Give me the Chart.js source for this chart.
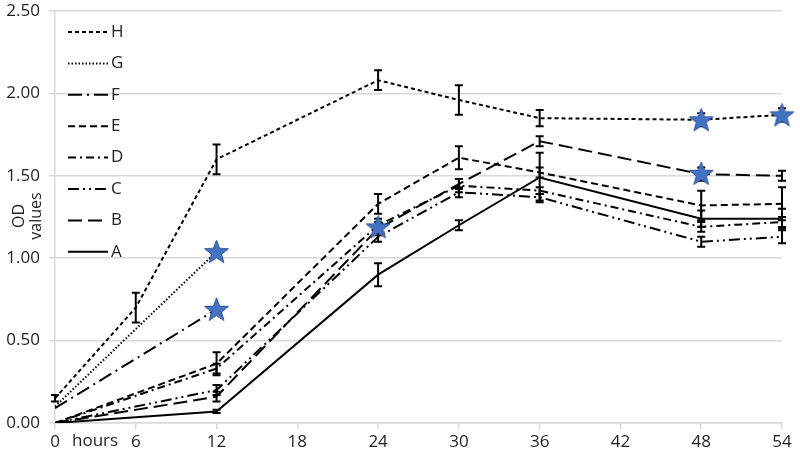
<!DOCTYPE html>
<html>
<head>
<meta charset="utf-8">
<script src="https://cdn.jsdelivr.net/npm/chart.js@4"></script>
<style>
  html, body { margin: 0; padding: 0; background: #fff; }
  #wrap { width: 800px; height: 459px; position: relative; }
</style>
</head>
<body>
<div id="wrap"><canvas id="odChart"></canvas></div>
<script>
const hours = [0, 6, 12, 24, 30, 36, 48, 54];
const xTicks = [0, 6, 12, 18, 24, 30, 36, 42, 48, 54];
const yTicks = [0, 0.5, 1, 1.5, 2, 2.5];

const seriesA = [0, null, 0.07, 0.9, 1.2, 1.49, 1.24, 1.24];
const seriesB = [0, null, 0.16, 1.18, 1.45, 1.71, 1.51, 1.5];
const seriesC = [0, null, 0.2, 1.13, 1.4, 1.37, 1.1, 1.13];
const seriesD = [0, null, 0.33, 1.2, 1.44, 1.41, 1.19, 1.22];
const seriesE = [0, null, 0.36, 1.33, 1.61, 1.52, 1.32, 1.33];
const seriesF = [0.09, null, 0.69, null, null, null, null, null];
const seriesG = [0.1, null, 1.04, null, null, null, null, null];
const seriesH = [0.15, 0.7, 1.6, 2.08, 1.96, 1.85, 1.84, 1.87];

const errA = [0, null, 0.01, 0.07, 0.03, 0.15, 0.05, 0.06];
const errB = [0, null, 0.03, 0.04, 0.03, 0.03, 0.04, 0.03];
const errC = [0, null, 0.03, 0.03, 0.03, 0.02, 0.03, 0.04];
const errD = [0, null, 0.03, 0.04, 0.04, 0.02, 0.03, 0.03];
const errE = [0, null, 0.07, 0.06, 0.07, 0.03, 0.09, 0.1];
const errH = [0.02, 0.09, 0.09, 0.06, 0.09, 0.05, 0.04, 0.04];

// significance markers
const starX = [12, 12, 24, 48, 48, 54];
const starY = [1.04, 0.69, 1.19, 1.84, 1.515, 1.87];

const FONT = "'Open Sans', sans-serif";
const INK = "#1f1f1f";

function pts(vals) {
  return hours
    .map((h, i) => ({ x: h, y: vals[i] }))
    .filter((p) => p.y !== null);
}

function makeStar(size) {
  const c = document.createElement("canvas");
  c.width = size;
  c.height = size;
  const ctx = c.getContext("2d");
  const cx = size / 2, cy = size / 2 + 1;
  const outer = size / 2 - 1, inner = outer * 0.42;
  ctx.beginPath();
  for (let i = 0; i < 10; i++) {
    const r = i % 2 === 0 ? outer : inner;
    const a = -Math.PI / 2 + (i * Math.PI) / 5;
    const px = cx + r * Math.cos(a), py = cy + r * Math.sin(a);
    if (i === 0) ctx.moveTo(px, py); else ctx.lineTo(px, py);
  }
  ctx.closePath();
  ctx.fillStyle = "#4472c4";
  ctx.fill();
  ctx.strokeStyle = "#2f528f";
  ctx.lineWidth = 1;
  ctx.stroke();
  return c;
}

function line(label, vals, errs, dash) {
  return {
    type: "line",
    label: label,
    data: pts(vals),
    errors: errs,
    borderColor: "#000",
    borderWidth: 2,
    borderDash: dash,
    pointRadius: 0,
    spanGaps: true,
    tension: 0,
  };
}

const datasets = [
  {
    type: "scatter",
    label: "stars",
    data: starX.map((x, i) => ({ x: x, y: starY[i] })),
    pointStyle: makeStar(27),
    pointRadius: 13,
    showLine: false,
    clip: false,
  },
  line("A", seriesA, errA, []),
  line("B", seriesB, errB, [14, 6]),
  line("C", seriesC, errC, [11, 4, 2, 4, 2, 4]),
  line("D", seriesD, errD, [8, 4, 2, 4]),
  line("E", seriesE, errE, [7, 4]),
  line("F", seriesF, null, [14, 5, 2, 5]),
  line("G", seriesG, null, [1.5, 2]),
  line("H", seriesH, errH, [4, 3]),
];

const errorBars = {
  id: "errorBars",
  afterDatasetDraw(chart, args) {
    const ds = chart.data.datasets[args.index];
    if (!ds.errors) return;
    const ctx = chart.ctx;
    const xs = chart.scales.x, ys = chart.scales.y;
    ctx.save();
    ctx.strokeStyle = "#000";
    ctx.lineWidth = 2;
    hours.forEach((h, i) => {
      const e = ds.errors[i];
      const v = ds.data.find((p) => p.x === h);
      if (!e || !v) return;
      const px = xs.getPixelForValue(h);
      const top = ys.getPixelForValue(v.y + e);
      const bot = ys.getPixelForValue(Math.max(0, v.y - e));
      ctx.beginPath();
      ctx.moveTo(px, top); ctx.lineTo(px, bot);
      ctx.moveTo(px - 4, top); ctx.lineTo(px + 4, top);
      ctx.moveTo(px - 4, bot); ctx.lineTo(px + 4, bot);
      ctx.stroke();
    });
    ctx.restore();
  },
};

const labelsAndLegend = {
  id: "labelsAndLegend",
  afterDraw(chart) {
    const ctx = chart.ctx;
    ctx.save();
    // legend inside the plot, top left
    ctx.font = "17px " + FONT;
    ctx.textBaseline = "middle";
    ctx.fillStyle = INK;
    const order = ["H", "G", "F", "E", "D", "C", "B", "A"];
    order.forEach((name, k) => {
      const ds = chart.data.datasets.find((d) => d.label === name);
      const y = 32 + k * 31.4;
      ctx.strokeStyle = "#000";
      ctx.lineWidth = 2;
      ctx.setLineDash(ds.borderDash);
      ctx.beginPath();
      ctx.moveTo(68, y);
      ctx.lineTo(108, y);
      ctx.stroke();
      ctx.setLineDash([]);
      ctx.fillText(name, 111, y);
    });
    // y title
    ctx.font = "16px " + FONT;
    ctx.textAlign = "center";
    ctx.translate(28, 216);
    ctx.rotate(-Math.PI / 2);
    ctx.fillText("OD", 0, -9);
    ctx.fillText("values", 0, 8);
    ctx.restore();
    ctx.save();
    ctx.font = "17px " + FONT;
    ctx.fillStyle = INK;
    ctx.textBaseline = "middle";
    ctx.fillText("hours", 72, 441);
    ctx.restore();
  },
};

new Chart(document.getElementById("odChart"), {
  data: { datasets: datasets },
  options: {
    responsive: true,
    maintainAspectRatio: false,
    animation: false,
    layout: { autoPadding: false, padding: { top: 11, right: 18, left: 0, bottom: 0 } },
    plugins: { legend: { display: false }, tooltip: { enabled: false } },
    scales: {
      x: {
        type: "linear",
        min: 0,
        max: 54,
        afterBuildTicks: (s) => { s.ticks = xTicks.map((v) => ({ value: v })); },
        afterFit: (s) => { s.height = 36; s.paddingLeft = 0; s.paddingRight = 0; },
        grid: { display: true, drawOnChartArea: false, color: "#d9d9d9", lineWidth: 1.5, tickLength: 6 },
        border: { display: true, color: "#d9d9d9", width: 1.5 },
        ticks: { color: INK, font: { family: FONT, size: 17 }, padding: 3, maxRotation: 0 },
      },
      y: {
        min: 0,
        max: 2.5,
        afterBuildTicks: (s) => { s.ticks = yTicks.map((v) => ({ value: v })); },
        afterFit: (s) => { s.width = 55; s.paddingTop = 0; s.paddingBottom = 0; },
        grid: { color: "#d9d9d9", lineWidth: 1.5, tickLength: 6 },
        border: { display: true, color: "#d9d9d9", width: 1.5 },
        ticks: {
          color: INK,
          font: { family: FONT, size: 17 },
          padding: 9,
          callback: (v) => v.toFixed(2),
        },
      },
    },
  },
  plugins: [errorBars, labelsAndLegend],
});
</script>
</body>
</html>
